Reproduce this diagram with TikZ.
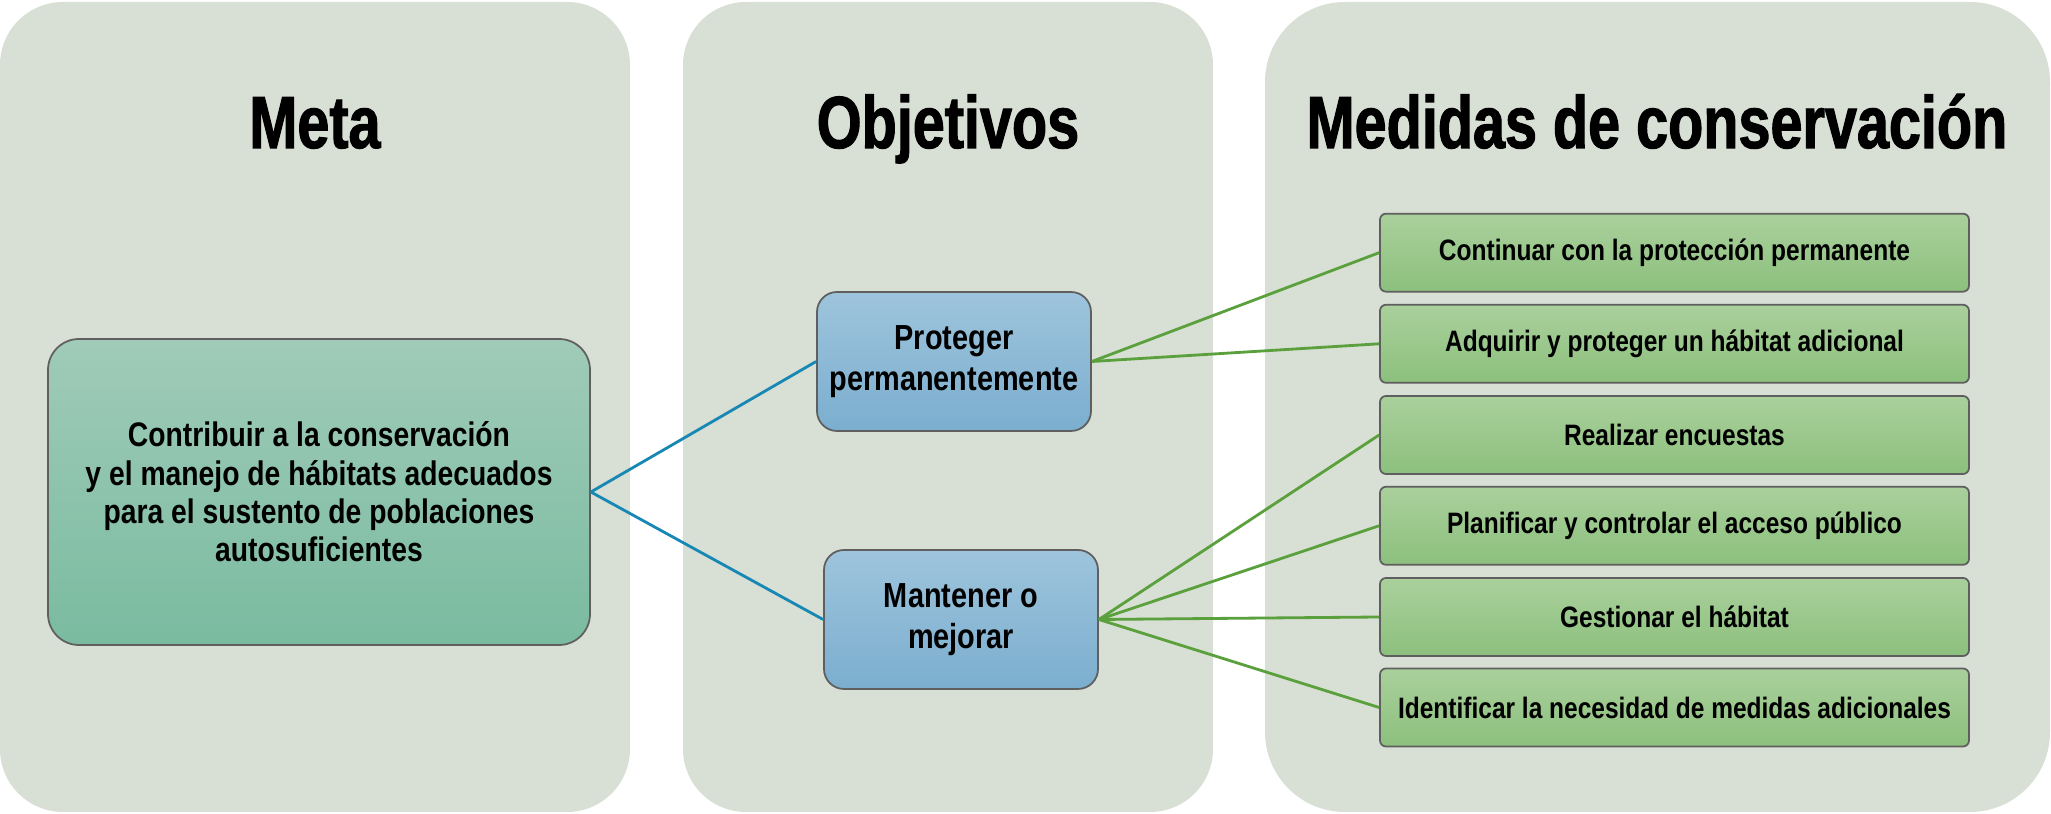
\documentclass[tikz,border=0pt]{standalone}
\usepackage{fontspec}
\setmainfont{Liberation Sans}
\newfontfamily\headfont{Liberation Sans}[FakeStretch=0.78,FakeBold=1.5]
\newfontfamily\condfont{Liberation Sans}[FakeStretch=0.83]
\usepackage{xcolor}
\definecolor{panelbg}{RGB}{216,223,212}
\definecolor{goaltop}{RGB}{160,203,185}
\definecolor{goalbot}{RGB}{122,187,160}
\definecolor{objtop}{RGB}{158,196,220}
\definecolor{objbot}{RGB}{123,174,207}
\definecolor{medtop}{RGB}{170,208,156}
\definecolor{medbot}{RGB}{140,192,125}
\definecolor{boxline}{RGB}{95,95,95}
\definecolor{bluelink}{RGB}{23,135,180}
\definecolor{greenlink}{RGB}{90,160,60}

\begin{document}
\begin{tikzpicture}[
  panel/.style={fill=panelbg},
  heading/.style={anchor=base,font=\headfont\bfseries\fontsize{21}{25}\selectfont},
  goalbox/.style={draw=boxline,line width=0.5pt,rounded corners=0.31cm,top color=goaltop,bottom color=goalbot,
    minimum width=5.42cm,minimum height=3.06cm,align=center,font=\condfont\bfseries\fontsize{9.7}{10.9}\selectfont},
  objbox/.style={draw=boxline,line width=0.5pt,rounded corners=0.2cm,top color=objtop,bottom color=objbot,
    minimum width=2.74cm,minimum height=1.39cm,align=center,font=\condfont\bfseries\fontsize{9.9}{11.7}\selectfont},
  medbox/.style={draw=boxline,line width=0.5pt,rounded corners=0.06cm,top color=medtop,bottom color=medbot,
    minimum width=5.89cm,minimum height=0.78cm,align=center,font=\condfont\bfseries\fontsize{8.4}{10}\selectfont}]
\useasboundingbox (0,0) rectangle (20.51,8.14);
% columns
\fill[panel,rounded corners=0.63cm] (0,0.02) rectangle (6.30,8.12);
\fill[panel,rounded corners=0.63cm] (6.83,0.02) rectangle (12.13,8.12);
\fill[panel,rounded corners=0.8cm] (12.65,0.02) rectangle (20.50,8.12);
\node[heading] (hmeta) at (3.15,6.66) {Meta};
\node[heading] (hobj) at (9.48,6.66) {Objetivos};
\node[heading] (hmed) at (16.57,6.66) {Medidas de conservación};
% goal and objectives
\node[goalbox] (goal) at (3.19,3.22) {Contribuir a la conservación\\y el manejo de hábitats adecuados\\para el sustento de poblaciones\\autosuficientes};
\node[objbox] (prot) at (9.54,4.525) {Proteger\\permanentemente};
\node[objbox] (mant) at (9.61,1.945) {Mantener o\\mejorar};
% measures
\node[medbox] (m1) at (16.745,5.613) {Continuar con la protección permanente};
\node[medbox] (m2) at (16.745,4.702) {Adquirir y proteger un hábitat adicional};
\node[medbox] (m3) at (16.745,3.790) {Realizar encuestas};
\node[medbox] (m4) at (16.745,2.882) {Planificar y controlar el acceso público};
\node[medbox] (m5) at (16.745,1.970) {Gestionar el hábitat};
\node[medbox] (m6) at (16.745,1.065) {Identificar la necesidad de medidas adicionales};
\path[draw=bluelink,line width=0.8pt]
(goal.east) edge (prot.west)
(goal.east) edge (mant.west);
\path[draw=greenlink,line width=0.8pt]
(prot.east) edge (m1.west)
(prot.east) edge (m2.west)
(mant.east) edge (m3.west)
(mant.east) edge (m4.west)
(mant.east) edge (m5.west)
(mant.east) edge (m6.west);
\end{tikzpicture}
\end{document}
